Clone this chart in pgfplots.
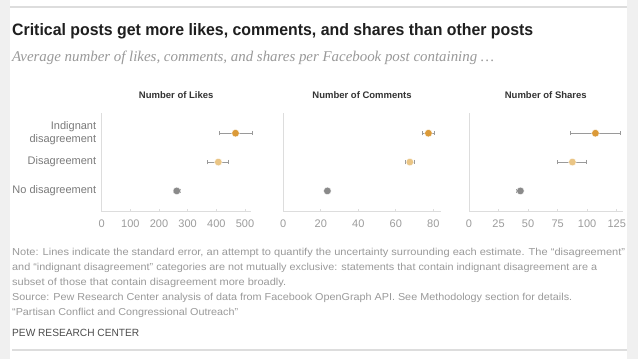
\documentclass[border=0pt]{standalone}
\usepackage{pgfplots}
\pgfplotsset{compat=1.18}
\usepackage{fontspec}
\setmainfont{Liberation Sans}
\newfontfamily\serifit{Liberation Serif}
\usepackage{graphicx}
\definecolor{bggray}{HTML}{F0F0F0}
\definecolor{indig}{HTML}{DB9A38}
\definecolor{disag}{HTML}{EAC585}
\definecolor{nodis}{HTML}{8A8A8A}
\definecolor{errgray}{HTML}{9A9A9A}
\definecolor{ticklab}{HTML}{9C9C9C}
\definecolor{ylab}{HTML}{7A7A7A}
\definecolor{notegray}{HTML}{9A9A9A}
\definecolor{axgray}{HTML}{DDDDDD}
\newcommand{\fitline}[2]{\resizebox{#1}{7.3pt}{#2}}
\pgfplotsset{
  panel/.style={
    scale only axis,
    height=98.7pt,
    ymin=0.28, ymax=3.7,
    axis x line=bottom, axis y line=left,
    axis line style={axgray, line width=0.8pt, -},
    x tick style={axgray, line width=0.8pt},
    tick align=inside,
    major tick length=3pt,
    ytick=\empty,
    every tick label/.append style={font=\fontsize{11}{11}\selectfont, text=ticklab},
    /pgf/number format/assume math mode=true,
    xticklabel style={yshift=-5pt},
    title style={font=\bfseries\fontsize{9.5}{10}\selectfont, text=black!80, at={(0.5,1)}, anchor=base, yshift=9pt},
    clip=false,
    error bars/error bar style={errgray, line width=0.9pt},
    error bars/error mark options={errgray, line width=0.9pt, rotate=90, mark size=2.2pt},
  },
  dot/.style={only marks, mark=*, mark size=3.8pt, mark options={draw=white, line width=0.4pt, fill=#1},
    error bars/.cd, x dir=both, x explicit},
}
\begin{document}
\begin{tikzpicture}
\useasboundingbox (0pt,0pt) rectangle (638pt,-359pt);
\fill[bggray] (0pt,0pt) rectangle (638pt,-359pt);
\fill[white] (10pt,0pt) rectangle (627pt,-359pt);
\draw[axgray, line width=1.2pt] (10pt,-7pt) -- (627pt,-7pt);
\draw[axgray, line width=1.2pt] (12pt,-350pt) -- (627pt,-350pt);

\node[anchor=base west, inner sep=0pt, text=black!88] at (12pt,-35.5pt)
  {\resizebox{521pt}{12pt}{\bfseries Critical posts get more likes, comments, and shares than other posts}};
\node[anchor=base west, inner sep=0pt, text=black!40] at (12pt,-61pt)
  {\resizebox{482pt}{!}{\serifit\itshape\fontsize{13}{13}\selectfont Average number of likes, comments, and shares per Facebook post containing \dots}};

% Likes
\begin{axis}[panel, at={(101.7pt,-113pt)}, anchor=north west,
  width=149pt, xmin=0, xmax=520, xtick={0,100,...,500},
  ytick={1,2,3}, yticklabels={No disagreement, Disagreement, {Indignant\\disagreement}},
  y tick style={draw=none},
  yticklabel style={align=right, text=ylab, font=\fontsize{11}{13.3}\selectfont, xshift=-2pt},
  title={Number of Likes}]
\addplot+[dot=nodis] coordinates {(262,1) +- (13,0)};
\addplot+[dot=disag] coordinates {(407,2) += (35,0) -= (37,0)};
\addplot+[dot=indig] coordinates {(467,3) += (58,0) -= (57,0)};
\end{axis}

% Comments
\begin{axis}[panel, at={(283.3pt,-113pt)}, anchor=north west,
  width=157.5pt, xmin=0, xmax=84, xtick={0,20,...,80},
  title={Number of Comments}]
\addplot+[dot=nodis] coordinates {(23.5,1) +- (1.8,0)};
\addplot+[dot=disag] coordinates {(67.5,2) +- (2.4,0)};
\addplot+[dot=indig] coordinates {(77.4,3) += (3,0) -= (3,0)};
\end{axis}

% Shares
\begin{axis}[panel, at={(469pt,-113pt)}, anchor=north west,
  width=153.6pt, xmin=0, xmax=130, xtick={0,25,...,125},
  title={Number of Shares}]
\addplot+[dot=nodis] coordinates {(43.5,1) +- (3,0)};
\addplot+[dot=disag] coordinates {(87.5,2) += (12.3,0) -= (13,0)};
\addplot+[dot=indig] coordinates {(107,3) += (21,0) -= (21,0)};
\end{axis}

\begin{scope}[every node/.style={anchor=base west, inner sep=0pt, text=notegray}]
\node at (12pt,-255pt) {\fitline{613pt}{Note: Lines indicate the standard error, an attempt to quantify the uncertainty surrounding each estimate. The “disagreement”}};
\node at (12pt,-270pt) {\fitline{585pt}{and “indignant disagreement” categories are not mutually exclusive: statements that contain indignant disagreement are a}};
\node at (12pt,-285pt) {\fitline{274pt}{subset of those that contain disagreement more broadly.}};
\node at (12pt,-300pt) {\fitline{560pt}{Source: Pew Research Center analysis of data from Facebook OpenGraph API. See Methodology section for details.}};
\node at (12pt,-315pt) {\fitline{226pt}{“Partisan Conflict and Congressional Outreach”}};
\node[text=black!70] at (12pt,-336pt) {\fitline{127pt}{PEW RESEARCH CENTER}};
\end{scope}
\end{tikzpicture}
\end{document}
